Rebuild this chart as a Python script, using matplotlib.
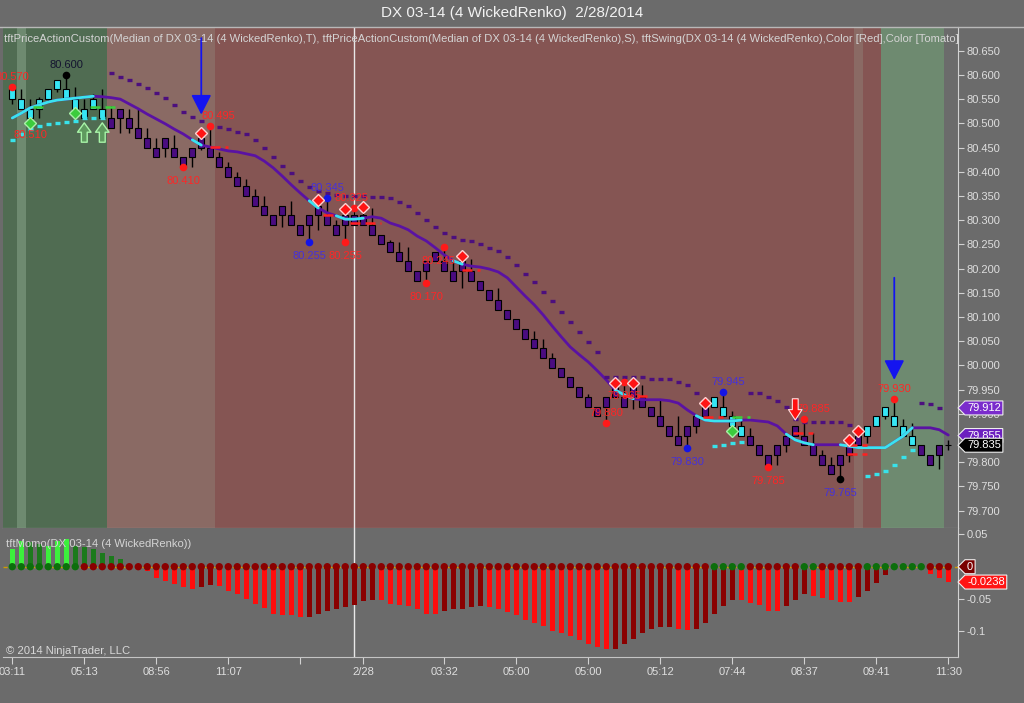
import numpy as np
import matplotlib.pyplot as plt
from matplotlib.path import Path
from matplotlib.lines import Line2D
from matplotlib.transforms import blended_transform_factory

plt.rcParams['font.family'] = ['Liberation Sans', 'DejaVu Sans']

# ---- Renko bars (DX 03-14, 4 WickedRenko) ----
opens = [80.550, 80.530, 80.510, 80.530, 80.550, 80.570, 80.550, 80.530, 80.510, 80.530,
         80.510, 80.510, 80.530, 80.510, 80.490, 80.470, 80.450, 80.470, 80.450, 80.430,
         80.450, 80.470, 80.450, 80.430, 80.410, 80.390, 80.370, 80.350, 80.330, 80.310,
         80.330, 80.310, 80.290, 80.310, 80.330, 80.310, 80.290, 80.310, 80.310, 80.310,
         80.290, 80.270, 80.255, 80.235, 80.215, 80.195, 80.215, 80.235, 80.215, 80.195,
         80.215, 80.195, 80.175, 80.155, 80.135, 80.115, 80.095, 80.075, 80.055, 80.035,
         80.015, 79.995, 79.975, 79.955, 79.935, 79.915, 79.935, 79.955, 79.935, 79.955,
         79.935, 79.915, 79.895, 79.875, 79.855, 79.875, 79.895, 79.915, 79.915, 79.895,
         79.875, 79.855, 79.855, 79.835, 79.815, 79.835, 79.855, 79.875, 79.855, 79.835,
         79.815, 79.795, 79.815, 79.835, 79.855, 79.855, 79.875, 79.895, 79.875, 79.855,
         79.835, 79.835, 79.815, 79.815, 79.835]
closes = [80.570, 80.550, 80.530, 80.550, 80.570, 80.590, 80.570, 80.550, 80.530, 80.550,
          80.530, 80.490, 80.510, 80.490, 80.470, 80.450, 80.430, 80.450, 80.430, 80.410,
          80.430, 80.450, 80.430, 80.410, 80.390, 80.370, 80.350, 80.330, 80.310, 80.290,
          80.310, 80.290, 80.270, 80.290, 80.310, 80.290, 80.270, 80.290, 80.290, 80.290,
          80.270, 80.250, 80.235, 80.215, 80.195, 80.175, 80.195, 80.215, 80.195, 80.175,
          80.195, 80.175, 80.155, 80.135, 80.115, 80.095, 80.075, 80.055, 80.035, 80.015,
          79.995, 79.975, 79.955, 79.935, 79.915, 79.895, 79.915, 79.935, 79.915, 79.935,
          79.915, 79.895, 79.875, 79.855, 79.835, 79.855, 79.875, 79.895, 79.935, 79.915,
          79.895, 79.875, 79.835, 79.815, 79.795, 79.815, 79.835, 79.855, 79.835, 79.815,
          79.795, 79.775, 79.795, 79.815, 79.835, 79.875, 79.895, 79.915, 79.895, 79.875,
          79.855, 79.815, 79.795, 79.835, 79.835]
highs = [80.575, 80.570, 80.550, 80.555, 80.570, 80.590, 80.600, 80.575, 80.550, 80.560,
         80.570, 80.535, 80.530, 80.530, 80.530, 80.490, 80.470, 80.470, 80.475, 80.430,
         80.450, 80.480, 80.495, 80.440, 80.420, 80.400, 80.385, 80.365, 80.350, 80.310,
         80.330, 80.340, 80.290, 80.310, 80.330, 80.345, 80.300, 80.310, 80.325, 80.325,
         80.325, 80.270, 80.260, 80.255, 80.245, 80.195, 80.215, 80.235, 80.245, 80.215,
         80.215, 80.220, 80.175, 80.155, 80.160, 80.115, 80.095, 80.075, 80.070, 80.055,
         80.025, 79.995, 79.975, 79.955, 79.940, 79.915, 79.935, 79.970, 79.965, 79.955,
         79.960, 79.915, 79.930, 79.875, 79.895, 79.875, 79.895, 79.915, 79.935, 79.945,
         79.905, 79.890, 79.870, 79.835, 79.815, 79.835, 79.855, 79.875, 79.890, 79.860,
         79.825, 79.810, 79.815, 79.835, 79.855, 79.875, 79.895, 79.915, 79.930, 79.890,
         79.880, 79.835, 79.815, 79.835, 79.845]
lows = [80.540, 80.530, 80.505, 80.510, 80.545, 80.565, 80.550, 80.530, 80.510, 80.530,
        80.510, 80.490, 80.480, 80.480, 80.470, 80.450, 80.430, 80.430, 80.430, 80.410,
        80.410, 80.445, 80.430, 80.410, 80.390, 80.370, 80.350, 80.330, 80.310, 80.290,
        80.285, 80.290, 80.270, 80.255, 80.280, 80.290, 80.270, 80.255, 80.290, 80.290,
        80.270, 80.250, 80.235, 80.215, 80.195, 80.175, 80.170, 80.215, 80.195, 80.175,
        80.160, 80.175, 80.155, 80.135, 80.115, 80.095, 80.075, 80.055, 80.035, 80.015,
        79.995, 79.975, 79.955, 79.935, 79.915, 79.895, 79.880, 79.935, 79.915, 79.910,
        79.915, 79.895, 79.875, 79.855, 79.835, 79.830, 79.860, 79.895, 79.915, 79.895,
        79.875, 79.855, 79.835, 79.815, 79.790, 79.795, 79.820, 79.855, 79.835, 79.815,
        79.795, 79.775, 79.765, 79.800, 79.835, 79.840, 79.875, 79.890, 79.875, 79.855,
        79.835, 79.815, 79.795, 79.785, 79.825]
paint = "c" * 11 + "p" * 67 + "c" * 4 + "p" * 13 + "c" * 6 + "p" * 4

# background regime per bar: G dark green, L light green, b light brown, B red-brown, - none
regime = "GL" + "G" * 9 + "b" * 12 + "B" * 71 + "b" + "BB" + "L" * 7 + "-"

# trend line (purple) with cyan stretches
ma = [80.511, 80.521, 80.532, 80.538, 80.544, 80.548, 80.550, 80.552, 80.554, 80.556,
      80.555, 80.553, 80.550, 80.540, 80.530, 80.519, 80.509, 80.499, 80.488, 80.478,
      80.466, 80.455, 80.451, 80.447, 80.443, 80.441, 80.437, 80.433, 80.422, 80.408,
      80.391, 80.373, 80.356, 80.340, 80.325, 80.315, 80.309, 80.302, 80.302, 80.304,
      80.307, 80.304, 80.294, 80.288, 80.280, 80.267, 80.257, 80.243, 80.228, 80.216,
      80.209, 80.205, 80.203, 80.199, 80.193, 80.181, 80.162, 80.143, 80.125, 80.104,
      80.081, 80.059, 80.038, 80.022, 80.007, 79.989, 79.970, 79.949, 79.939, 79.931,
      79.929, 79.929, 79.929, 79.927, 79.922, 79.908, 79.896, 79.887, 79.885, 79.885,
      79.885, 79.887, 79.887, 79.885, 79.883, 79.875, 79.858, 79.846, 79.840, 79.836,
      79.836, 79.836, 79.836, 79.833, 79.830, 79.830, 79.830, 79.830, 79.842, 79.854,
      79.871, 79.871, 79.871, 79.867, 79.856]
ma_cyan = [(0, 9), (20, 21), (33, 34), (36, 39), (49, 50), (67, 69), (76, 81), (86, 89), (92, 100)]

# stop dashes
stop_hi_bars = [*range(11, 77), *range(82, 94), 101, 102, 103]
stop_hi_vals = [80.604, 80.596, 80.590, 80.581, 80.573, 80.563, 80.552, 80.538, 80.523,
                80.513, 80.505, 80.495, 80.492, 80.488, 80.482, 80.478, 80.466, 80.449, 80.430,
                80.412, 80.397, 80.381, 80.369, 80.360, 80.356, 80.352, 80.350, 80.350, 80.350,
                80.348, 80.348, 80.346, 80.338, 80.329, 80.315, 80.300, 80.286, 80.274, 80.265,
                80.259, 80.257, 80.251, 80.243, 80.236, 80.224, 80.207, 80.189, 80.172, 80.152,
                80.133, 80.110, 80.090, 80.069, 80.048, 80.028, 79.975, 79.975, 79.975, 79.975,
                79.975, 79.972, 79.972, 79.972, 79.966, 79.960, 79.943,
                79.943, 79.943, 79.935, 79.927, 79.914, 79.889, 79.883, 79.883, 79.883, 79.883,
                79.883, 79.877,
                79.922, 79.920, 79.912]
stop_lo_bars = [*range(0, 11), 78, 79, 80, 81, *range(95, 101)]
stop_lo_vals = [80.466, 80.478, 80.488, 80.495, 80.499, 80.501, 80.503, 80.505, 80.511, 80.511,
                80.511, 79.834, 79.836, 79.840, 79.842, 79.772, 79.776, 79.782, 79.795, 79.811,
                79.825]

# swing levels (short dashed)
red_lvl_from = [22, 34.5, 37.5, 50, 67.8, 76.7, 86.7, 92.7, 92.7]
red_lvl_to = [24, 36, 41, 52, 71, 79, 89, 95, 95]
red_lvl_price = [80.452, 80.311, 80.295, 80.196, 79.937, 79.894, 79.860, 79.836, 79.817]
grn_lvl_from = [2.3, 8.6, 80]
grn_lvl_to = [4, 12, 82]
grn_lvl_price = [80.534, 80.534, 79.894]

# swing points
red_dot_bars = [0, 19, 22, 37, 38, 46, 48, 66, 68, 84, 88, 98]
red_dot_price = [80.575, 80.410, 80.495, 80.255, 80.325, 80.170, 80.245, 79.880, 79.965, 79.790, 79.890, 79.930]
blue_dot_bars = [33, 35, 75, 79]
blue_dot_price = [80.255, 80.345, 79.830, 79.945]
black_dot_bars = [6, 92]
black_dot_price = [80.600, 79.765]

lbl_bars = [0, 2, 19, 22, 37, 38, 46, 48, 66, 68, 84, 88, 98, 6, 33, 35, 75, 79, 92]
lbl_price = [80.575, 80.505, 80.410, 80.495, 80.255, 80.325, 80.170, 80.245, 79.880, 79.965,
             79.790, 79.890, 79.930, 80.600, 80.255, 80.345, 79.830, 79.945, 79.765]
lbl_text = ['80.570', '80.510', '80.410', '80.495', '80.255', '80.325', '80.170', '80.245', '79.880',
            '79.965', '79.785', '79.885', '79.930', '80.600', '80.255', '80.345', '79.830', '79.945', '79.765']
lbl_side = "abbababbabbaaabab" + "ab"
lbl_kind = "rrrrrrrrrrrrrkbbbbb"
lbl_dx = [0, 0, 0, 8, 0, -3, 0, -6, 0, 0, 0, 9, 0, 0, 0, 0, 0, 5, 0]

red_dia_bars = [21, 34, 37, 39, 50, 67, 69, 77, 93, 94]
red_dia_price = [80.481, 80.342, 80.323, 80.327, 80.226, 79.964, 79.964, 79.923, 79.846, 79.865]
grn_dia_bars = [2, 7, 80]
grn_dia_price = [80.501, 80.522, 79.865]

blue_arr_bars = [21, 98]
blue_arr_from = [80.676, 80.181]
blue_arr_to = [80.518, 79.970]
red_arr_bars = [87]
red_arr_from = [79.931]
red_arr_to = [79.887]
grn_arr_bars = [8, 10]
grn_arr_from = [80.461, 80.461]
grn_arr_to = [80.501, 80.501]

price_ticks = [80.650, 80.600, 80.550, 80.500, 80.450, 80.400, 80.350, 80.300, 80.250, 80.200,
               80.150, 80.100, 80.050, 80.000, 79.950, 79.900, 79.800, 79.750, 79.700]
price_tags = [79.912, 79.855, 79.835]
price_tag_colors = ['#7a2ccc', '#6c1fbf', '#000000']

# ---- momentum panel ----
mom = [0.027, 0.040, 0.038, 0.035, 0.0325, 0.040, 0.043, 0.0325, 0.030, 0.027,
       0.022, 0.017, 0.012, 0.002, 0.0, -0.0065, -0.017, -0.022, -0.027, -0.0315,
       -0.035, -0.0315, -0.029, -0.030, -0.037, -0.043, -0.050, -0.0586, -0.064, -0.073,
       -0.075, -0.075, -0.078, -0.078, -0.073, -0.068, -0.066, -0.063, -0.060, -0.053,
       -0.051, -0.052, -0.0575, -0.059,
       -0.061, -0.066, -0.073, -0.074, -0.069, -0.065, -0.065, -0.063, -0.061, -0.063,
       -0.066, -0.070, -0.075, -0.082, -0.088, -0.0925, -0.099, -0.103, -0.108, -0.114,
       -0.120, -0.125, -0.127, -0.127, -0.1195, -0.112, -0.103, -0.096, -0.094, -0.094,
       -0.096, -0.098, -0.096, -0.087, -0.074, -0.061, -0.051, -0.052, -0.056, -0.059,
       -0.068, -0.068, -0.061, -0.051, -0.043, -0.046, -0.049, -0.052, -0.054, -0.055,
       -0.047, -0.038, -0.026, -0.013, 0.0, 0.0, 0.0, 0.0, -0.012, -0.018, -0.0238]
mom_col = ("GGggGGGggggggDDRRRRRRDD" + "R" * 10 + "D" * 8 + "R" * 7 + "D" * 5 + "R" * 14
           + "D" * 7 + "RR" + "D" * 5 + "R" * 5 + "DDD" + "R" * 5 + "D" * 8 + "RRR")
dot_green = [*range(0, 8), 78, 79, 80, 81, 88, 89, *range(95, 102)]
mom_ticks = [0.05, -0.05, -0.1]
mom_tick_labels = ['0.05', '-0.05', '-0.1']
mom_tags = [0.0, -0.0238]
mom_tag_text = ['0', '-0.0238']
mom_tag_colors = ['#7a0000', '#ff1414']

time_ticks = [0, 8, 16, 24, 32, 39, 48, 56, 64, 72, 80, 88, 96, 104]
time_labels = ['03:11', '05:13', '08:56', '11:07', '', '2/28', '03:32', '05:00', '05:00',
               '05:12', '07:44', '08:37', '09:41', '11:30']
cursor_bar = 38

BG = '#6b6b6b'
AXC = '#d2d2d2'
regime_colors = {'G': '#506c52', 'L': '#6e8a70', 'b': '#8a6a64', 'B': '#855553'}
lbl_colors = {'r': '#ff2626', 'b': '#4632d8', 'k': '#141430'}
mom_colors = {'G': '#3cf03c', 'g': '#1c7a1c', 'R': '#ff0d0d', 'D': '#8a0000'}


def px_rect(l, t, r, b):
    return [l / 1024, 1 - b / 703, (r - l) / 1024, (b - t) / 703]


def tag_box(x0, y0, width, height, mutation_size):
    pad = mutation_size * 0.18
    x0, y0 = x0 - pad, y0 - pad
    x1, y1 = x0 + width + 2 * pad, y0 + height + 2 * pad
    return Path([(x0, y0), (x1, y0), (x1, y1), (x0, y1), (x0 - (y1 - y0) / 2, (y0 + y1) / 2), (x0, y0)],
                closed=True)


def add_tag(a, val, text, fc):
    a.annotate(text, xy=(1, val), xycoords=blended_transform_factory(a.transAxes, a.transData),
               xytext=(9, 0), textcoords='offset pixels', ha='left', va='center', fontsize=8,
               color='white', annotation_clip=False, zorder=20,
               bbox=dict(boxstyle=tag_box, fc=fc, ec='#eeeeee', lw=0.8))


fig = plt.figure(figsize=(10.24, 7.03), dpi=100)
fig.patch.set_facecolor(BG)
ax = fig.add_axes(px_rect(3, 27, 958, 528))
axm = fig.add_axes(px_rect(3, 528, 958, 657), sharex=ax)

for a in (ax, axm):
    a.set_facecolor(BG)
    a.yaxis.tick_right()
    for s in ('left', 'top'):
        a.spines[s].set_visible(False)
    a.spines['right'].set_color(AXC)
    a.spines['bottom'].set_color('#c4c4c4')
    a.tick_params(axis='y', color=AXC, labelcolor='#dedede', labelsize=8, length=4, width=0.8, pad=2)
    a.axvline(cursor_bar, color='#e8e8e8', lw=1, zorder=2)

x = np.arange(len(opens))
ax.set_xlim(-1.03, -1.03 + 955 / 9)
ax.set_ylim(79.664, 80.699)
ax.tick_params(axis='x', bottom=False, labelbottom=False)
ax.set_yticks(price_ticks)
ax.yaxis.set_major_formatter('{x:.3f}')

# background regimes
start = 0
for i in range(1, len(regime) + 1):
    if i == len(regime) or regime[i] != regime[start]:
        if regime[start] != '-':
            left = ax.get_xlim()[0] if start == 0 else start - 0.5
            ax.axvspan(left, i - 0.5, color=regime_colors[regime[start]], lw=0, zorder=0)
        start = i

# candles
o = np.array(opens)
c = np.array(closes)
fills = ['#36e6f4' if p == 'c' else '#4a0c80' for p in paint]
ax.vlines(x, lows, highs, color='black', lw=1, zorder=3)
ax.bar(x, np.abs(c - o), bottom=np.minimum(o, c), width=0.7, color=fills,
       edgecolor='black', linewidth=0.8, zorder=4)

# trend line
ma = np.array(ma)
ax.plot(x, ma, color='#5a12a3', lw=2, zorder=5, solid_capstyle='round')
for a0, a1 in ma_cyan:
    ax.plot(x[a0:a1 + 1], ma[a0:a1 + 1], color='#3ae4f0', lw=2, zorder=5, solid_capstyle='round')

# stop dashes
hb = np.array(stop_hi_bars)
ax.hlines(stop_hi_vals, hb - 0.3, hb + 0.3, color='#4c0f7e', lw=2.4, zorder=5)
lb = np.array(stop_lo_bars)
ax.hlines(stop_lo_vals, lb - 0.3, lb + 0.3, color='#38e2ea', lw=2.4, zorder=5)

ax.hlines(red_lvl_price, red_lvl_from, red_lvl_to, color='#ff2020', lw=1.8,
          linestyles=(0, (4, 2)), zorder=5)
ax.hlines(grn_lvl_price, grn_lvl_from, grn_lvl_to, color='#3ccf3c', lw=1.8,
          linestyles=(0, (4, 2)), zorder=5)

# swing dots and labels
ax.plot(red_dot_bars, red_dot_price, 'o', color='#ff1a1a', ms=5.5, mew=0, zorder=6)
ax.plot(blue_dot_bars, blue_dot_price, 'o', color='#1414e6', ms=5.5, mew=0, zorder=6)
ax.plot(black_dot_bars, black_dot_price, 'o', color='#000000', ms=5.5, mew=0, zorder=6)
for b, p, t, sd, k, dx in zip(lbl_bars, lbl_price, lbl_text, lbl_side, lbl_kind, lbl_dx):
    ax.annotate(t, (b, p), xytext=(dx, 10 if sd == 'a' else -14), textcoords='offset pixels',
                ha='center', va='center', fontsize=8, color=lbl_colors[k], zorder=6)

ax.plot(red_dia_bars, red_dia_price, 'D', color='#ff1414', mec='#ffd0d0', mew=1, ms=6.5, zorder=7)
ax.plot(grn_dia_bars, grn_dia_price, 'D', color='#3ccc3c', mec='#a8f0a8', mew=1, ms=6.5, zorder=7)

# signal arrows
for b, p0, p1 in zip(blue_arr_bars, blue_arr_from, blue_arr_to):
    ax.annotate('', xy=(b, p1), xytext=(b, p0), zorder=8,
                arrowprops=dict(arrowstyle='-|>,head_length=0.55,head_width=0.28', color='#1414f0',
                                lw=1.3, mutation_scale=22, shrinkA=0, shrinkB=0))
for b, p0, p1 in zip(red_arr_bars, red_arr_from, red_arr_to):
    ax.annotate('', xy=(b, p1), xytext=(b, p0), zorder=8,
                arrowprops=dict(arrowstyle='simple,head_length=0.5,head_width=0.65,tail_width=0.28',
                                fc='#ff1010', ec='#ffe0e0', lw=0.8, mutation_scale=15,
                                shrinkA=0, shrinkB=0))
for b, p0, p1 in zip(grn_arr_bars, grn_arr_from, grn_arr_to):
    ax.annotate('', xy=(b, p1), xytext=(b, p0), zorder=8,
                arrowprops=dict(arrowstyle='simple,head_length=0.45,head_width=0.65,tail_width=0.28',
                                fc='#5f9a5f', ec='#a8f4a8', lw=1, mutation_scale=15,
                                shrinkA=0, shrinkB=0))

for v, fc in zip(price_tags, price_tag_colors):
    add_tag(ax, v, f'{v:.3f}', fc)

ind = ax.text(0.001, 0.976,
              'tftPriceActionCustom(Median of DX 03-14 (4 WickedRenko),T), '
              'tftPriceActionCustom(Median of DX 03-14 (4 WickedRenko),S), '
              'tftSwing(DX 03-14 (4 WickedRenko),Color [Red],Color [Tomato],Color [Blue],5,2,True)',
              transform=ax.transAxes, fontsize=8.1, color='#d4d4d4', ha='left', va='center', zorder=9)
ind.set_clip_box(ax.bbox)
ind.set_clip_on(True)

# momentum panel
axm.set_ylim(-0.140, 0.060)
mcols = [mom_colors[k] for k in mom_col]
axm.bar(x, mom, width=0.6, color=mcols, lw=0, zorder=3)
axm.axhline(0, color='#d09a00', lw=1, ls=(0, (3, 2)), zorder=4)
dot_cols = ['#0c6e0c' if i in dot_green else '#8a0000' for i in x]
axm.scatter(x, np.zeros(len(x)), s=28, c=dot_cols, lw=0, zorder=5)
axm.set_yticks(mom_ticks)
axm.set_yticklabels(mom_tick_labels)
axm.set_xticks(time_ticks)
axm.set_xticklabels(time_labels)
axm.tick_params(axis='x', color=AXC, labelcolor='#dedede', labelsize=8, length=5, width=0.8, pad=2)
for v, t, fc in zip(mom_tags, mom_tag_text, mom_tag_colors):
    add_tag(axm, v, t, fc)
axm.text(0.003, 0.875, 'tftMomo(DX 03-14 (4 WickedRenko))', transform=axm.transAxes,
         fontsize=8.1, color='#d4d4d4', ha='left', va='center', zorder=9)
axm.text(0.003, 0.05, '\u00a9 2014 NinjaTrader, LLC', transform=axm.transAxes,
         fontsize=8.1, color='#d8d8d8', ha='left', va='center', zorder=9)

fig.text(0.5, 1 - 13 / 703, 'DX 03-14 (4 WickedRenko)  2/28/2014', ha='center', va='center',
         fontsize=11, color='#f2f2f2')
fig.add_artist(Line2D([0, 1], [1 - 27 / 703] * 2, color='#b8b8b8', lw=1))

fig.savefig('out.png', dpi=100, facecolor=BG)
